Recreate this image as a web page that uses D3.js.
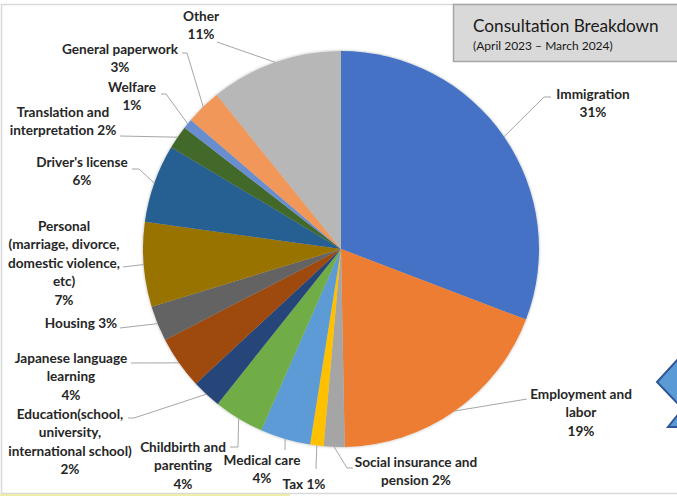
<!DOCTYPE html>
<html>
<head>
<meta charset="utf-8">
<script src="https://cdn.jsdelivr.net/npm/d3@7"></script>
<style>
  html, body { margin: 0; padding: 0; background: #fff; }
  svg { display: block; }
</style>
</head>
<body>
<svg id="chart" width="677" height="496"></svg>
<script>
// ---- data ----
const categories = [
  "Immigration", "Employment and labor", "Social insurance and pension", "Tax",
  "Medical care", "Childbirth and parenting", "Education(school, university, international school)",
  "Japanese language learning", "Housing", "Personal (marriage, divorce, domestic violence, etc)",
  "Driver's license", "Translation and interpretation", "Welfare", "General paperwork", "Other"
];
const values = [30.8, 18.9, 1.7, 1.1, 4.1, 4.1, 2.4, 4.3, 2.9, 6.9, 6.4, 1.9, 0.8, 2.9, 10.8];
const colors = [
  "#4472C4", "#ED7D31", "#A5A5A5", "#FFC000", "#5B9BD5", "#70AD47", "#264478",
  "#9E480E", "#636363", "#997300", "#255E91", "#43682B", "#698ED0", "#F1975A", "#B7B7B7"
];
// label text lines ("{p}" replaced by the rounded percentage)
const labelLines = [
  ["Immigration", "{p}"],
  ["Employment and", "labor", "{p}"],
  ["Social insurance and", "pension {p}"],
  ["Tax {p}"],
  ["Medical care", "{p}"],
  ["Childbirth and", "parenting", "{p}"],
  ["Education(school,", "university,", "international school)", "{p}"],
  ["Japanese language", "learning", "{p}"],
  ["Housing {p}"],
  ["Personal", "(marriage, divorce,", "domestic violence,", "etc)", "{p}"],
  ["Driver's license", "{p}"],
  ["Translation and", "interpretation {p}"],
  ["Welfare", "{p}"],
  ["General paperwork", "{p}"],
  ["Other", "{p}"]
];
const titleText = "Consultation Breakdown";
const subtitleText = "(April 2023 \u2013 March 2024)";

// ---- layout (label placement: text center x, first baseline y, leader points) ----
const labelLayout = [
  { x: 593, y: 99,  leader: [[544, 97], [551, 97]] },
  { x: 581, y: 399, leader: [[527, 399]] },
  { x: 416, y: 467, leader: [[347, 468], [353, 468]] },
  { x: 304, y: 489, leader: [[316, 469]] },
  { x: 262, y: 465, leader: [[285, 450]] },
  { x: 183, y: 452, leader: [[238, 447], [230, 447]] },
  { x: 70,  y: 419, leader: [[134, 418], [128, 418]] },
  { x: 71,  y: 363, leader: [[131, 363]] },
  { x: 81,  y: 328, leader: [[120, 328]] },
  { x: 64,  y: 231, leader: [[123, 267]] },
  { x: 82,  y: 167, leader: [[139, 169], [132, 169]] },
  { x: 63,  y: 117, leader: [[120, 136]] },
  { x: 132, y: 92,  leader: [[166, 94], [161, 94]] },
  { x: 120, y: 54,  leader: [[187, 53], [182, 53]] },
  { x: 201, y: 21,  leader: [[217, 42]] }
];

const W = 677, H = 496;
const cx = 341, cy = 249, R = 198;
const lineH = 18.4;

const svg = d3.select("#chart");

// frame
svg.append("rect").attr("x", 1.5).attr("y", 4.5).attr("width", W + 10).attr("height", 489)
  .attr("fill", "#fff").attr("stroke", "#d9d9d9").attr("stroke-width", 1.5);
svg.append("rect").attr("x", 0).attr("y", 494).attr("width", 290).attr("height", 2).attr("fill", "#eeeeaa");

// shadow filter
const defs = svg.append("defs");
const f = defs.append("filter").attr("id", "shadow").attr("x", "-10%").attr("y", "-10%").attr("width", "120%").attr("height", "120%");
f.append("feDropShadow").attr("dx", 0).attr("dy", 0).attr("stdDeviation", 1.8)
  .attr("flood-color", "#000").attr("flood-opacity", 0.3);

const pie = d3.pie().sort(null).value(d => d)(values);
const arc = d3.arc().innerRadius(0).outerRadius(R);
const total = d3.sum(values);

const g = svg.append("g").attr("transform", `translate(${cx},${cy})`);
g.append("g").attr("filter", "url(#shadow)")
  .selectAll("path").data(pie).join("path")
  .attr("d", arc)
  .attr("fill", (d, i) => colors[i]);

// leader lines
const lineGen = d3.line();
svg.append("g").selectAll("path").data(pie).join("path")
  .attr("fill", "none").attr("stroke", "#a6a6a6").attr("stroke-width", 1)
  .attr("d", (d, i) => {
    const mid = (d.startAngle + d.endAngle) / 2;
    const p0 = [cx + R * Math.sin(mid), cy - R * Math.cos(mid)];
    return lineGen([p0, ...labelLayout[i].leader]);
  });

// labels
const pct = v => Math.round(v / total * 100) + "%";
const labels = svg.append("g")
  .attr("font-family", "Lato, 'Open Sans', sans-serif")
  .attr("font-weight", "bold").attr("font-size", "13.6px").attr("fill", "#262626")
  .attr("text-anchor", "middle");
labelLines.forEach((lines, i) => {
  const t = labels.append("text").attr("x", labelLayout[i].x).attr("y", labelLayout[i].y);
  lines.forEach((ln, j) => {
    t.append("tspan").attr("x", labelLayout[i].x).attr("dy", j === 0 ? 0 : lineH)
      .text(ln.replace("{p}", pct(values[i])));
  });
});

// title box
svg.append("rect").attr("x", 453.5).attr("y", 4.5).attr("width", 240).attr("height", 57)
  .attr("fill", "#d9d9d9").attr("stroke", "#a6a6a6").attr("stroke-width", 1.5);
svg.append("text").attr("x", 473).attr("y", 32)
  .attr("font-family", "Lato, 'Open Sans', sans-serif").attr("font-size", "17.2px").attr("fill", "#1a1a1a")
  .text(titleText);
svg.append("text").attr("x", 473).attr("y", 50)
  .attr("font-family", "Lato, 'Open Sans', sans-serif").attr("font-size", "12px").attr("fill", "#1a1a1a")
  .text(subtitleText);

// partial arrow shape on right edge
svg.append("path")
  .attr("d", "M680,357 L657,382 L680,406")
  .attr("fill", "#5B9BD5").attr("stroke", "#2F5597").attr("stroke-width", 2);
svg.append("path")
  .attr("d", "M680,412 L668,427 L680,427 Z")
  .attr("fill", "#5B9BD5").attr("stroke", "#2F5597").attr("stroke-width", 2);
</script>
</body>
</html>
